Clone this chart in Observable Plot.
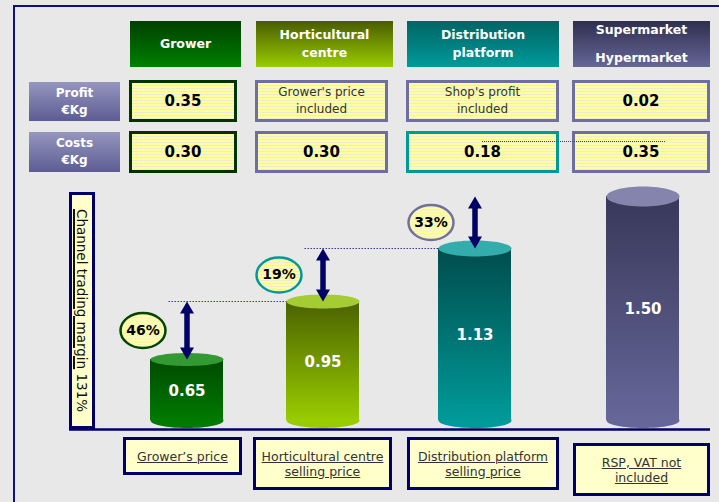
<!DOCTYPE html>
<html>
<head>
<meta charset="utf-8">
<script src="https://cdn.jsdelivr.net/npm/d3@7"></script>
<script src="https://cdn.jsdelivr.net/npm/@observablehq/plot@0.6"></script>
<style>
  body { margin: 0; background: #e8e8e8; font-family: "DejaVu Sans", Verdana, sans-serif; }
  #wrap { position: relative; width: 719px; height: 502px; overflow: hidden; background: #e8e8e8; }
  #wrap > svg { position: absolute; left: 0; top: 0; }
  .abs { position: absolute; box-sizing: border-box; display: flex; flex-direction: column;
         align-items: center; justify-content: center; text-align: center; }
  .head { color: #fff; font-weight: bold; font-size: 12.5px; line-height: 18px; }
  .rowlab { color: #fff; font-weight: bold; font-size: 12px; line-height: 17px;
            background: linear-gradient(#9696bf, #5c5c93); }
  .cell { border: 3px solid #6e6ea2;
          background: repeating-linear-gradient(#ffff9c 0px, #ffff9c 2px, #ececd4 2px, #ececd4 3px); }
  .num { font-weight: bold; font-size: 15px; color: #000; }
  .txt { font-size: 12px; line-height: 17px; color: #333; }
  .blab { border: 3px solid #000066; background: #ffffcc; font-size: 12.5px; line-height: 15px; color: #333; }
  .blab span { text-decoration: underline; }
  .frame { position: absolute; background: #101080; }
</style>
</head>
<body>
<div id="wrap"></div>
<script>
// ---------- data ----------
const stages = ["Grower", "Horticultural centre", "Distribution platform", "Supermarket Hypermarket"];
const headerLines = [["Grower"], ["Horticultural", "centre"], ["Distribution", "platform"], ["Supermarket", "Hypermarket"]];
const rowLabels = [["Profit", "€Kg"], ["Costs", "€Kg"]];
const profit = ["0.35", "Grower's price included", "Shop's profit included", "0.02"];
const costs = ["0.30", "0.30", "0.18", "0.35"];
const prices = [0.65, 0.95, 1.13, 1.50];
const priceLabels = ["0.65", "0.95", "1.13", "1.50"];
const margins = ["46%", "19%", "33%"];
const priceNames = [["Grower’s price"], ["Horticultural centre", "selling price"], ["Distribution platform", "selling price"], ["RSP, VAT not", "included"]];
const axisTitle = "Channel trading margin";
const totalMargin = "131%";

// ---------- styles / layout ----------
const headGrad = [["#003f00", "#008000"], ["#4a5c00", "#99cc00"], ["#006464", "#009a9a"], ["#2f2f4f", "#666699"]];
const cylGrad = [["#004a00", "#007a00"], ["#4a6200", "#99cc00"], ["#004c4c", "#009a98"], ["#38385a", "#666699"]];
const capColor = ["#339933", "#a6cc33", "#33acac", "#8484ac"];
const capRy = [6.5, 7, 8, 10];
const pctBorder = ["#004400", "#009999", "#7070a0"];
const colHead = [[130, 111], [256, 137], [407, 152], [573, 137]];
const colCell = [[129, 108], [255, 133], [406, 153], [572, 138]];
const colLab = [[123, 119, 437, 38], [253, 139, 437, 53], [407, 152, 437, 53], [573, 137, 443, 53]];
const cellBorder = [["#003300", "#6e6ea2", "#6e6ea2", "#6e6ea2"], ["#003300", "#6e6ea2", "#009999", "#6e6ea2"]];

const wrap = document.getElementById("wrap");

// ---------- chart (Plot) ----------
const yDomain = [0, ...prices];
const yRange = [420, 359, 301, 248, 196];
const yPix = d3.scaleLinear(yDomain, yRange);
const midVal = v => yPix.invert((yPix(0) + yPix(v)) / 2 + 1);

const cyl = prices.map((v, i) => ({i, v, label: priceLabels[i]}));
const steps = margins.map((m, i) => ({i, v: prices[i], next: prices[i + 1], pct: m}));

function ellipse(rx, ry) {
  const k = 0.5523;
  return {draw(c) {
    c.moveTo(rx, 0);
    c.bezierCurveTo(rx, ry * k, rx * k, ry, 0, ry);
    c.bezierCurveTo(-rx * k, ry, -rx, ry * k, -rx, 0);
    c.bezierCurveTo(-rx, -ry * k, -rx * k, -ry, 0, -ry);
    c.bezierCurveTo(rx * k, -ry, rx, -ry * k, rx, 0);
    c.closePath();
  }};
}
const upTri = {draw(c) { c.moveTo(0, 0); c.lineTo(7, 12); c.lineTo(-7, 12); c.closePath(); }};
const downTri = {draw(c) { c.moveTo(0, 0); c.lineTo(7, -12); c.lineTo(-7, -12); c.closePath(); }};
const navy = "#000066";

const chart = Plot.plot({
  width: 719,
  height: 502,
  margin: 0,
  style: {background: "transparent", fontFamily: "DejaVu Sans, Verdana, sans-serif"},
  x: {type: "linear", domain: [0, 1, 2, 3], range: [186.5, 322.5, 474.5, 642.5], axis: null},
  y: {type: "linear", domain: yDomain, range: yRange, axis: null},
  color: {type: "identity"},
  marks: [
    // baseline
    Plot.ruleY([0], {dy: 9, insetLeft: 69, insetRight: 9, stroke: navy, strokeWidth: 2.5}),
    // cylinder bottoms
    Plot.dot(cyl, {x: "i", y: () => 0, symbol: ellipse(36.5, 7.5), fill: d => cylGrad[d.i][1], stroke: "none"}),
    // cylinder bodies
    Plot.rect(cyl, {x1: "i", x2: "i", y1: () => 0, y2: "v", insetLeft: -36.5, insetRight: -36.5,
                    fill: d => `url(#cyl${d.i})`}),
    // cylinder caps
    ...cyl.map(c => Plot.dot([c], {x: "i", y: "v", symbol: ellipse(36.5, capRy[c.i]), fill: d => capColor[d.i], stroke: "none"})),
    // value labels
    Plot.text(cyl, {x: "i", y: d => midVal(d.v), text: "label", fill: "white", fontWeight: "bold", fontSize: 15}),
    // dotted guide lines
    Plot.ruleY(steps.filter(d => d.i < 2), {y: "next", x1: "i", x2: d => d.i + 1, insetLeft: -18, insetRight: 36.5,
                    stroke: "#3a3a90", strokeWidth: 1.2, strokeDasharray: "1.5,1.5"}),
    // arrows
    Plot.ruleX(steps, {x: "i", y1: "next", y2: "v", insetTop: 8, insetBottom: 8, stroke: navy, strokeWidth: 5.5}),
    Plot.dot(steps, {x: "i", y: "next", symbol: upTri, fill: navy, stroke: "none"}),
    Plot.dot(steps, {x: "i", y: "v", symbol: downTri, fill: navy, stroke: "none"}),
    // margin bubbles
    Plot.dot(steps, {x: "i", y: d => (d.v + d.next) / 2, dx: -44, symbol: ellipse(22.5, 17.5),
                     fill: "url(#stripes)", stroke: d => pctBorder[d.i], strokeWidth: 2.5}),
    Plot.text(steps, {x: "i", y: d => (d.v + d.next) / 2, dx: -44, text: "pct", fill: "black",
                      fontWeight: "bold", fontSize: 14})
  ]
});

const defs = d3.select(chart).insert("defs", ":first-child");
cylGrad.forEach(([a, b], i) => {
  const g = defs.append("linearGradient").attr("id", "cyl" + i)
    .attr("x1", 0).attr("y1", 0).attr("x2", 0).attr("y2", 1);
  g.append("stop").attr("offset", 0).attr("stop-color", a);
  g.append("stop").attr("offset", 1).attr("stop-color", b);
});
const pat = defs.append("pattern").attr("id", "stripes").attr("patternUnits", "userSpaceOnUse")
  .attr("width", 4).attr("height", 3);
pat.append("rect").attr("width", 4).attr("height", 3).attr("fill", "#ffff9c");
pat.append("rect").attr("width", 4).attr("height", 1).attr("y", 2).attr("fill", "#ececd4");
wrap.appendChild(chart);

// ---------- HTML table / labels ----------
function box(cls, left, top, w, h, lines, extra = {}) {
  const d = document.createElement("div");
  d.className = "abs " + cls;
  Object.assign(d.style, {left: left + "px", top: top + "px", width: w + "px", height: h + "px"}, extra);
  lines.forEach(t => {
    const s = document.createElement("span");
    s.textContent = t;
    d.appendChild(s);
  });
  wrap.appendChild(d);
  return d;
}
// frame
[[13, 5, 720, 2], [13, 5, 2, 500]].forEach(([l, t, w, h]) => {
  const f = document.createElement("div");
  f.className = "frame";
  Object.assign(f.style, {left: l + "px", top: t + "px", width: w + "px", height: h + "px"});
  wrap.appendChild(f);
});
// headers
headerLines.forEach((lines, i) => {
  const [l, w] = colHead[i];
  box("head", l, 21, w, 46, lines, {
    background: `linear-gradient(${headGrad[i][0]}, ${headGrad[i][1]})`,
    lineHeight: i === 3 ? "28px" : "18px"
  });
});
// row labels
rowLabels.forEach((lines, r) => box("rowlab", 29, r === 0 ? 82 : 132, 91, r === 0 ? 39 : 40, lines));
// cells
[profit, costs].forEach((row, r) => {
  row.forEach((val, i) => {
    const [l, w] = colCell[i];
    const isNum = /^[0-9.]+$/.test(val);
    const lines = isNum ? [val] : (val.includes("price") ? ["Grower's price", "included"] : ["Shop's profit", "included"]);
    box("cell " + (isNum ? "num" : "txt"), l, r === 0 ? 80 : 131, w, 42, lines, {borderColor: cellBorder[r][i]});
  });
});
// dotted guide through the costs row
const dl = document.createElement("div");
Object.assign(dl.style, {position: "absolute", left: "482px", top: "141px", width: "183px", height: "0",
  borderTop: "1px dotted #3a3a90"});
wrap.appendChild(dl);
// y-axis title box
const yb = box("", 69, 192, 26, 237, [], {border: "3px solid #000066", background: "#ffffcc"});
const yt = document.createElement("div");
Object.assign(yt.style, {writingMode: "vertical-rl", fontSize: "13.5px", color: "#111", whiteSpace: "nowrap", lineHeight: "18px"});
const u = document.createElement("span");
Object.assign(u.style, {textDecoration: "underline", textUnderlinePosition: "left", textDecorationThickness: "1.5px"});
u.textContent = axisTitle;
yt.appendChild(u);
yt.appendChild(document.createTextNode(" " + totalMargin));
yb.appendChild(yt);
// bottom labels
priceNames.forEach((lines, i) => {
  const [l, w, t, h] = colLab[i];
  box("blab", l, t, w, h, lines);
});
</script>
</body>
</html>
